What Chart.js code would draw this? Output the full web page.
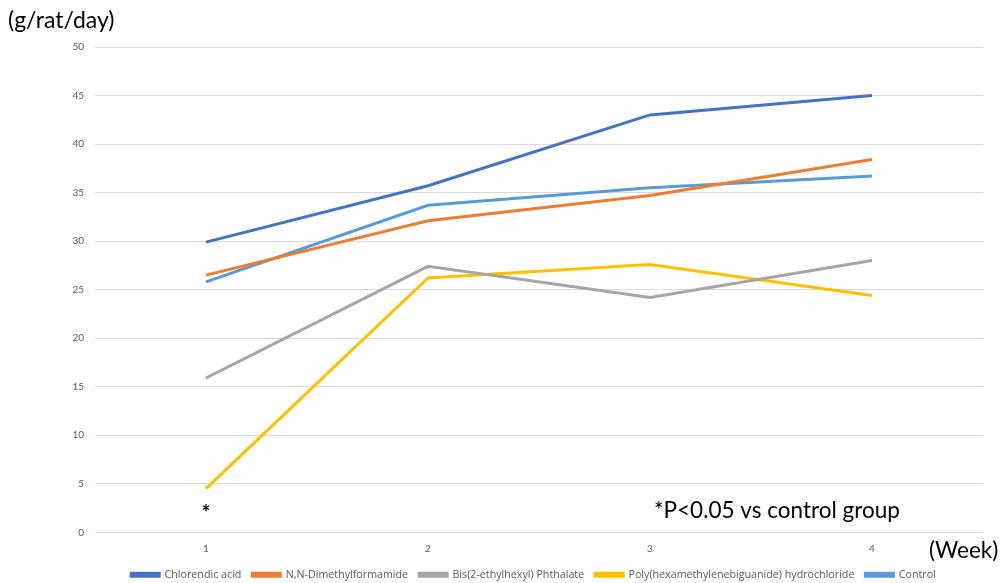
<!DOCTYPE html>
<html lang="en">
<head>
    <meta charset="UTF-8">
    <title>Food consumption</title>
    <script src="https://cdn.jsdelivr.net/npm/chart.js"></script>
    <style>
        body { margin: 0; padding: 0; background: #ffffff; }
        #wrap { width: 1003px; height: 583px; }
    </style>
</head>
<body>
    <div id="wrap"><canvas id="chart" width="1003" height="583"></canvas></div>
    <script>
        // Data
        const weeks = ["1", "2", "3", "4"];
        const chlorendicAcid = [29.9, 35.7, 43.0, 45.0];
        const dimethylformamide = [26.5, 32.1, 34.7, 38.4];
        const bisPhthalate = [15.9, 27.4, 24.2, 28.0];
        const polyHexamethylene = [4.5, 26.2, 27.6, 24.4];
        const control = [25.8, 33.7, 35.5, 36.7];

        const seriesNames = [
            "Chlorendic acid",
            "N,N-Dimethylformamide",
            "Bis(2-ethylhexyl) Phthalate",
            "Poly(hexamethylenebiguanide) hydrochloride",
            "Control"
        ];
        const seriesData = [chlorendicAcid, dimethylformamide, bisPhthalate, polyHexamethylene, control];
        const seriesColors = ["#4472C4", "#ED7D31", "#A5A5A5", "#FFC000", "#5B9BD5"];

        const font = "Lato, 'Open Sans', sans-serif";

        // extra text: units, week label, significance marks
        const notes = {
            id: "notes",
            afterLayout(chart) {
                // legend sits a bit right of center in the original
                chart.legend.left += 42;
                chart.legend.right += 42;
            },
            afterDraw(chart) {
                const ctx = chart.ctx;
                const x = chart.scales.x;
                const y = chart.scales.y;
                ctx.save();
                ctx.fillStyle = "#000000";
                ctx.textBaseline = "middle";
                ctx.textAlign = "left";
                ctx.font = "23px " + font;
                ctx.fillText("(g/rat/day)", 8, 21);
                ctx.font = "22.5px " + font;
                ctx.fillText("(Week)", 929, 551);
                ctx.fillText("*P<0.05 vs control group", 654, 511);
                ctx.textAlign = "center";
                ctx.font = "bold 21px " + font;
                ctx.fillText("*", x.getPixelForValue(0), y.getPixelForValue(2.0));
                ctx.restore();
            }
        };

        new Chart(document.getElementById("chart"), {
            type: "line",
            data: {
                labels: weeks,
                datasets: seriesNames.map((name, i) => ({
                    label: name,
                    data: seriesData[i],
                    borderColor: seriesColors[i],
                    backgroundColor: seriesColors[i],
                    borderWidth: 3,
                    pointRadius: 0,
                    tension: 0
                }))
            },
            options: {
                responsive: false,
                animation: false,
                layout: { padding: { top: 47, left: 0, right: 20, bottom: -7 } },
                plugins: {
                    legend: {
                        position: "bottom",
                        labels: {
                            boxWidth: 28,
                            boxHeight: 3,
                            padding: 11,
                            color: "#595959",
                            font: { family: "'Open Sans', sans-serif", size: 10.7 }
                        }
                    },
                    tooltip: { enabled: false }
                },
                scales: {
                    x: {
                        offset: true,
                        grid: { display: false, drawTicks: false },
                        border: { display: false },
                        ticks: { color: "#595959", font: { family: font, size: 10 }, padding: 10 },
                        afterFit(scale) { scale.height = 26; }
                    },
                    y: {
                        min: 0,
                        max: 50,
                        ticks: { stepSize: 5, color: "#595959", font: { family: font, size: 10 }, padding: 11 },
                        grid: { color: "#D9D9D9", lineWidth: 1, drawTicks: false },
                        border: { display: false },
                        afterFit(scale) { scale.width = 95; }
                    }
                }
            },
            plugins: [notes]
        });
    </script>
</body>
</html>
